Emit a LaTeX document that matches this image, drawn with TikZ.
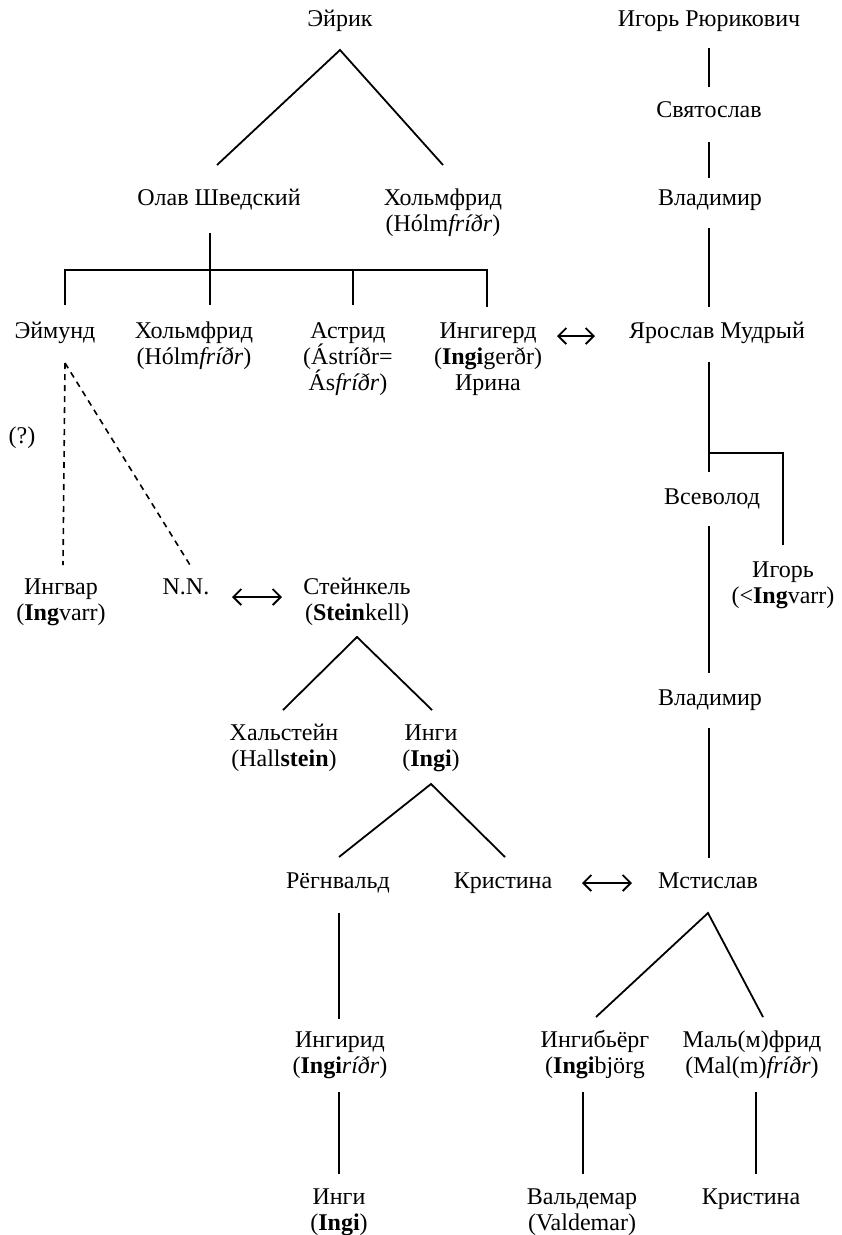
\documentclass[tikz,border=0pt]{standalone}
\usepackage{fontspec}
\setmainfont{Liberation Serif}
\usetikzlibrary{arrows.meta}
\newcommand{\st}{\rule{0pt}{22pt}}
\begin{document}
\begin{tikzpicture}[x=1pt,y=-1pt,
  lbl/.style={anchor=north, inner sep=0pt, align=center, font=\fontsize{24}{26}\selectfont},
  ln/.style={line width=1.8pt},
  dsh/.style={line width=1.6pt, dash pattern=on 6pt off 5pt},
  rel/.style={line width=1.8pt, {Straight Barb[length=8pt,width=16pt]}-{Straight Barb[length=8pt,width=16pt]}}]
\useasboundingbox (0,0) rectangle (842,1235);
% names
\node[lbl] (eirik) at (340,4) {\st Эйрик};
\node[lbl] (igorR) at (709,4) {\st Игорь Рюрикович};
\node[lbl] (svyat) at (709,95) {\st Святослав};
\node[lbl] (vlad1) at (710,183) {\st Владимир};
\node[lbl] (olav) at (219,183) {\st Олав Шведский};
\node[lbl] (holm1) at (443,183) {\st Хольмфрид\\(Hólm\textit{fríðr})};
\node[lbl] (eymund) at (55,316) {\st Эймунд};
\node[lbl] (holm2) at (194,316) {\st Хольмфрид\\(Hólm\textit{fríðr})};
\node[lbl] (astrid) at (348,316) {\st Астрид\\(Ástríðr=\\Ás\textit{fríðr})};
\node[lbl] (ingigerd) at (488,316) {\st Ингигерд\\(\textbf{Ingi}gerðr)\\Ирина};
\node[lbl] (yaroslav) at (717,316) {\st Ярослав Мудрый};
\node[lbl] (q) at (22,421) {\st (?)};
\node[lbl] (vsevolod) at (712,482) {\st Всеволод};
\node[lbl] (igor) at (783,555) {\st Игорь\\(<\textbf{Ing}varr)};
\node[lbl] (ingvar) at (61,572) {\st Ингвар\\(\textbf{Ing}varr)};
\node[lbl] (nn) at (186,572) {\st N.N.};
\node[lbl] (steinkel) at (357,572) {\st Стейнкель\\(\textbf{Stein}kell)};
\node[lbl] (vlad2) at (710,683) {\st Владимир};
\node[lbl] (halstein) at (284,718) {\st Хальстейн\\(Hall\textbf{stein})};
\node[lbl] (ingiA) at (431,718) {\st Инги\\(\textbf{Ingi})};
\node[lbl] (rognvald) at (338,866) {\st Рёгнвальд};
\node[lbl] (kristinaA) at (503,866) {\st Кристина};
\node[lbl] (mstislav) at (708,866) {\st Мстислав};
\node[lbl] (ingirid) at (340,1025) {\st Ингирид\\(\textbf{Ingi}\textit{ríðr})};
\node[lbl] (ingibjorg) at (595,1025) {\st Ингибьёрг\\(\textbf{Ingi}björg};
\node[lbl] (malmfrid) at (752,1025) {\st Маль(м)фрид\\(Mal(m)\textit{fríðr})};
\node[lbl] (ingiB) at (339,1182) {\st Инги\\(\textbf{Ingi})};
\node[lbl] (valdemar) at (582,1182) {\st Вальдемар\\(Valdemar)};
\node[lbl] (kristinaB) at (751,1182) {\st Кристина};
% connector points
\coordinate (eirikA) at (340,50);
\coordinate (olavT) at (217,165);
\coordinate (holm1T) at (443,165);
\coordinate (igorRB) at (709,48);
\coordinate (svyatT) at (709,87);
\coordinate (svyatB) at (709,142);
\coordinate (vlad1T) at (709,178);
\coordinate (vlad1B) at (709,228);
\coordinate (yaroslavT) at (709,307);
\coordinate (olavB) at (210,233);
\coordinate (barL) at (65,270);
\coordinate (barA) at (353,270);
\coordinate (barR) at (487,270);
\coordinate (eymundT) at (65,305);
\coordinate (holm2T) at (210,305);
\coordinate (astridT) at (353,305);
\coordinate (ingigerdT) at (487,307);
\coordinate (ingigerdE) at (557,336);
\coordinate (yaroslavW) at (595,336);
\coordinate (yaroslavB) at (709,362);
\coordinate (vsevolodT) at (709,472);
\coordinate (brJ) at (709,453);
\coordinate (brC) at (783,453);
\coordinate (igorT) at (783,545);
\coordinate (vsevolodB) at (709,526);
\coordinate (vlad2T) at (709,673);
\coordinate (vlad2B) at (709,728);
\coordinate (mstislavT) at (709,858);
\coordinate (eymundB) at (65,363);
\coordinate (ingvarT) at (63,565);
\coordinate (nnT) at (190,565);
\coordinate (nnE) at (232,597);
\coordinate (steinkelW) at (282,597);
\coordinate (steinkelA) at (357,637);
\coordinate (halsteinT) at (283,710);
\coordinate (ingiAT) at (432,710);
\coordinate (ingiAA) at (431,784);
\coordinate (rognvaldT) at (339,857);
\coordinate (kristinaAT) at (505,857);
\coordinate (kristinaAE) at (582,883);
\coordinate (mstislavW) at (632,883);
\coordinate (mstislavA) at (708,913);
\coordinate (ingibjorgT) at (596,1017);
\coordinate (malmfridT) at (763,1017);
\coordinate (rognvaldB) at (339,913);
\coordinate (ingiridT) at (339,1019);
\coordinate (ingiridB) at (339,1092);
\coordinate (ingiBT) at (339,1174);
\coordinate (ingibjorgB) at (583,1092);
\coordinate (valdemarT) at (583,1174);
\coordinate (malmfridB) at (756,1092);
\coordinate (kristinaBT) at (756,1174);
% connectors
\draw[ln] (olavT) -- (eirikA) -- (holm1T);
\draw[ln] (igorRB) -- (svyatT);
\draw[ln] (svyatB) -- (vlad1T);
\draw[ln] (vlad1B) -- (yaroslavT);
\draw[ln] (olavB) -- (holm2T);
\draw[ln] (eymundT) -- (barL) -- (barR) -- (ingigerdT);
\draw[ln] (barA) -- (astridT);
\draw[rel] (ingigerdE) -- (yaroslavW);
\draw[ln] (yaroslavB) -- (vsevolodT);
\draw[ln] (brJ) -- (brC) -- (igorT);
\draw[ln] (vsevolodB) -- (vlad2T);
\draw[ln] (vlad2B) -- (mstislavT);
\draw[dsh] (eymundB) -- (ingvarT);
\draw[dsh] (eymundB) -- (nnT);
\draw[rel] (nnE) -- (steinkelW);
\draw[ln] (halsteinT) -- (steinkelA) -- (ingiAT);
\draw[ln] (rognvaldT) -- (ingiAA) -- (kristinaAT);
\draw[rel] (kristinaAE) -- (mstislavW);
\draw[ln] (ingibjorgT) -- (mstislavA) -- (malmfridT);
\draw[ln] (rognvaldB) -- (ingiridT);
\draw[ln] (ingiridB) -- (ingiBT);
\draw[ln] (ingibjorgB) -- (valdemarT);
\draw[ln] (malmfridB) -- (kristinaBT);
\end{tikzpicture}
\end{document}
